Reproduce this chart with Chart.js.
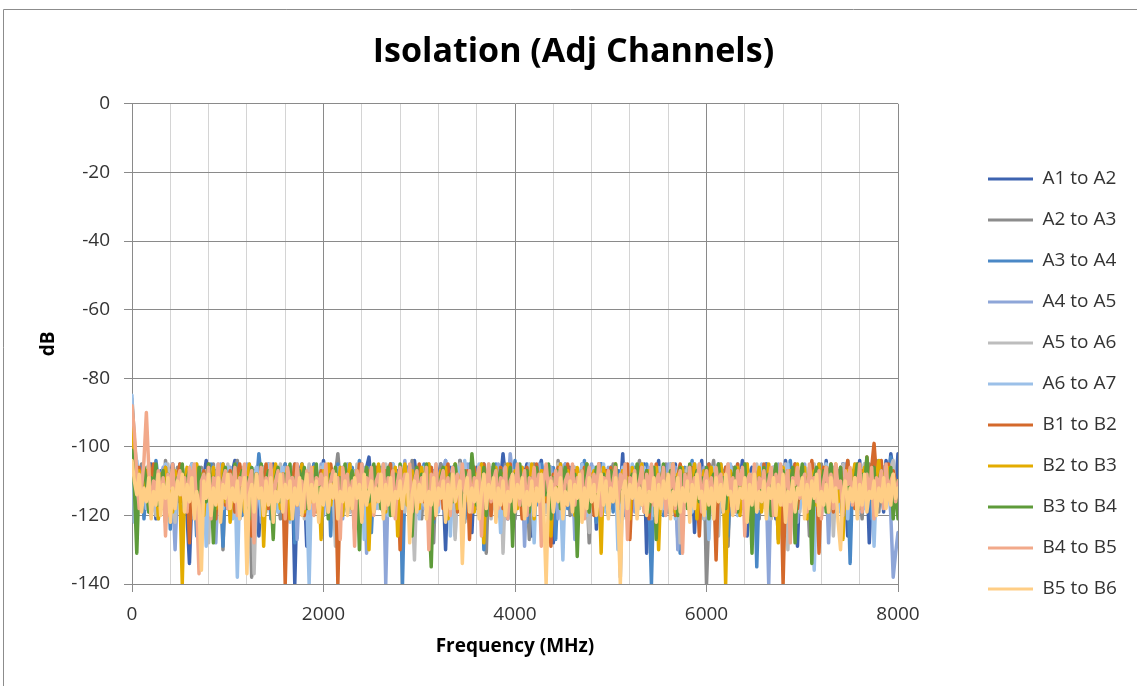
<!DOCTYPE html>
<html>
<head>
<meta charset="utf-8">
<script src="https://cdn.jsdelivr.net/npm/chart.js@4.4.1/dist/chart.umd.min.js"></script>
<style>
  html, body { margin: 0; padding: 0; background: #ffffff; }
  #wrap { width: 1137px; height: 686px; position: relative; }
</style>
</head>
<body>
<div id="wrap"><canvas id="c" width="1137" height="686"></canvas></div>
<script>
// ---- Data ----
const freqMHz = [
  0,25,50,75,100,125,150,175,200,225,250,275,300,325,350,375,400,425,450,475,
  500,525,550,575,600,625,650,675,700,725,750,775,800,825,850,875,900,925,950,975,
  1000,1025,1050,1075,1100,1125,1150,1175,1200,1225,1250,1275,1300,1325,1350,1375,1400,1425,1450,1475,
  1500,1525,1550,1575,1600,1625,1650,1675,1700,1725,1750,1775,1800,1825,1850,1875,1900,1925,1950,1975,
  2000,2025,2050,2075,2100,2125,2150,2175,2200,2225,2250,2275,2300,2325,2350,2375,2400,2425,2450,2475,
  2500,2525,2550,2575,2600,2625,2650,2675,2700,2725,2750,2775,2800,2825,2850,2875,2900,2925,2950,2975,
  3000,3025,3050,3075,3100,3125,3150,3175,3200,3225,3250,3275,3300,3325,3350,3375,3400,3425,3450,3475,
  3500,3525,3550,3575,3600,3625,3650,3675,3700,3725,3750,3775,3800,3825,3850,3875,3900,3925,3950,3975,
  4000,4025,4050,4075,4100,4125,4150,4175,4200,4225,4250,4275,4300,4325,4350,4375,4400,4425,4450,4475,
  4500,4525,4550,4575,4600,4625,4650,4675,4700,4725,4750,4775,4800,4825,4850,4875,4900,4925,4950,4975,
  5000,5025,5050,5075,5100,5125,5150,5175,5200,5225,5250,5275,5300,5325,5350,5375,5400,5425,5450,5475,
  5500,5525,5550,5575,5600,5625,5650,5675,5700,5725,5750,5775,5800,5825,5850,5875,5900,5925,5950,5975,
  6000,6025,6050,6075,6100,6125,6150,6175,6200,6225,6250,6275,6300,6325,6350,6375,6400,6425,6450,6475,
  6500,6525,6550,6575,6600,6625,6650,6675,6700,6725,6750,6775,6800,6825,6850,6875,6900,6925,6950,6975,
  7000,7025,7050,7075,7100,7125,7150,7175,7200,7225,7250,7275,7300,7325,7350,7375,7400,7425,7450,7475,
  7500,7525,7550,7575,7600,7625,7650,7675,7700,7725,7750,7775,7800,7825,7850,7875,7900,7925,7950,7975,
  8000
];

const seriesNames = ["A1 to A2","A2 to A3","A3 to A4","A4 to A5","A5 to A6","A6 to A7",
                     "B1 to B2","B2 to B3","B3 to B4","B4 to B5","B5 to B6"];

const a1toA2 = [
  -101,-104,-108,-111,-106,-112,-118,-109,-105,-110,-121,-113,-107,-109,-114,-119,-108,-105,-112,-116,
  -110,-106,-113,-120,-134,-115,-108,-111,-106,-117,-109,-104,-112,-123,-110,-107,-116,-111,-105,-109,
  -118,-112,-107,-104,-113,-121,-109,-106,-115,-110,-119,-107,-112,-126,-113,-106,-109,-117,-111,-105,
  -108,-114,-120,-110,-106,-112,-118,-108,-140,-113,-107,-105,-111,-129,-109,-115,-106,-112,-119,-110,
  -104,-109,-116,-113,-107,-121,-110,-106,-112,-118,-108,-105,-114,-124,-111,-107,-110,-117,-106,-103,
  -112,-119,-109,-106,-115,-110,-127,-108,-105,-113,-117,-107,-111,-127,-112,-106,-109,-116,-104,-110,
  -118,-108,-113,-106,-120,-111,-107,-115,-109,-105,-112,-130,-110,-106,-117,-108,-114,-104,-111,-119,
  -107,-113,-125,-109,-106,-116,-110,-105,-112,-120,-108,-114,-106,-118,-110,-102,-109,-121,-112,-107,
  -115,-106,-111,-119,-108,-105,-113,-126,-109,-116,-107,-104,-112,-118,-110,-106,-128,-113,-108,-105,
  -111,-117,-109,-106,-114,-121,-108,-112,-105,-110,-119,-107,-113,-106,-124,-110,-105,-115,-109,-112,
  -106,-118,-111,-107,-113,-102,-120,-109,-115,-106,-110,-117,-108,-112,-105,-131,-110,-107,-114,-109,
  -104,-116,-111,-106,-119,-108,-113,-105,-127,-110,-107,-115,-109,-112,-106,-125,-108,-111,-104,-118,
  -110,-106,-113,-120,-108,-105,-116,-111,-107,-122,-109,-113,-106,-118,-110,-104,-112,-126,-108,-106,
  -114,-109,-119,-107,-111,-105,-117,-110,-106,-121,-112,-108,-115,-104,-110,-118,-107,-113,-129,-109,
  -106,-112,-117,-108,-105,-114,-120,-110,-107,-113,-104,-116,-109,-111,-106,-119,-108,-105,-112,-126,
  -110,-107,-115,-109,-104,-118,-113,-106,-128,-111,-103,-108,-114,-106,-119,-104,-110,-102,-107,-112,
  -102
];
const a2toA3 = [
  -86,-98,-107,-111,-105,-113,-116,-109,-120,-106,-112,-108,-114,-118,-104,-110,-107,-122,-111,-106,
  -115,-109,-113,-119,-107,-105,-112,-117,-110,-106,-121,-108,-114,-109,-105,-116,-111,-107,-130,-110,
  -106,-113,-118,-108,-104,-111,-115,-109,-120,-107,-138,-112,-106,-110,-117,-108,-113,-105,-119,-111,
  -107,-114,-121,-109,-105,-112,-116,-108,-110,-106,-118,-113,-107,-111,-127,-109,-105,-114,-108,-112,
  -117,-110,-106,-113,-120,-108,-102,-111,-115,-109,-106,-119,-112,-107,-114,-110,-105,-122,-108,-113,
  -109,-116,-106,-111,-118,-107,-126,-112,-105,-110,-114,-108,-120,-106,-113,-109,-117,-104,-111,-115,
  -108,-121,-110,-106,-113,-107,-128,-109,-116,-105,-112,-119,-108,-111,-106,-117,-110,-104,-113,-122,
  -109,-107,-114,-106,-118,-111,-105,-112,-131,-108,-110,-115,-106,-119,-109,-113,-105,-111,-117,-107,
  -121,-110,-106,-114,-108,-112,-127,-109,-105,-116,-111,-107,-119,-108,-113,-106,-110,-118,-104,-112,
  -115,-108,-106,-120,-110,-113,-107,-117,-109,-105,-112,-128,-108,-111,-106,-116,-110,-114,-107,-119,
  -109,-105,-113,-118,-108,-111,-106,-121,-110,-107,-115,-109,-104,-117,-112,-108,-120,-106,-113,-110,
  -107,-116,-111,-105,-119,-109,-113,-106,-122,-108,-120,-112,-107,-115,-110,-105,-118,-109,-113,-106,
  -140,-120,-108,-104,-114,-109,-117,-107,-112,-129,-110,-106,-115,-108,-119,-111,-105,-113,-109,-116,
  -106,-112,-121,-108,-110,-105,-118,-113,-107,-111,-127,-109,-106,-116,-110,-108,-114,-105,-119,-112,
  -107,-113,-110,-126,-108,-106,-117,-111,-105,-114,-109,-120,-107,-112,-106,-118,-110,-108,-115,-104,
  -111,-117,-109,-106,-113,-121,-108,-110,-105,-116,-112,-107,-119,-109,-106,-114,-110,-108,-115,-112,
  -112
];
const a3toA4 = [
  -110,-113,-115,-108,-106,-121,-112,-108,-113,-117,-104,-110,-118,-109,-111,-106,-124,-112,-108,-114,
  -105,-111,-119,-109,-107,-113,-110,-126,-106,-109,-114,-108,-120,-105,-111,-116,-109,-107,-129,-110,
  -113,-106,-117,-109,-105,-112,-120,-108,-110,-115,-106,-127,-111,-102,-109,-116,-112,-107,-121,-110,
  -106,-113,-118,-109,-105,-111,-115,-108,-128,-106,-112,-110,-107,-119,-109,-114,-105,-111,-117,-108,
  -116,-110,-106,-126,-109,-112,-105,-118,-111,-107,-114,-109,-106,-120,-110,-104,-113,-108,-116,-106,
  -125,-110,-108,-114,-106,-119,-111,-107,-113,-105,-117,-109,-112,-140,-110,-106,-115,-108,-121,-109,
  -107,-113,-105,-118,-110,-106,-122,-108,-112,-115,-109,-104,-119,-111,-107,-114,-108,-116,-106,-121,
  -110,-105,-113,-118,-108,-111,-106,-130,-109,-114,-107,-112,-105,-120,-110,-108,-115,-106,-118,-111,
  -104,-116,-109,-112,-107,-122,-110,-106,-113,-117,-108,-105,-111,-119,-109,-115,-106,-127,-110,-107,
  -112,-105,-118,-109,-114,-106,-120,-108,-111,-104,-116,-110,-107,-113,-122,-108,-105,-112,-117,-109,
  -106,-119,-110,-113,-107,-115,-105,-121,-109,-111,-106,-118,-108,-113,-110,-105,-116,-140,-112,-107,
  -114,-109,-120,-106,-111,-105,-117,-110,-108,-131,-112,-106,-115,-109,-104,-118,-111,-107,-113,-121,
  -108,-105,-116,-110,-113,-107,-119,-109,-106,-126,-111,-108,-114,-105,-117,-110,-107,-112,-120,-109,
  -106,-135,-111,-108,-115,-105,-118,-110,-107,-113,-121,-109,-106,-116,-110,-104,-112,-119,-108,-114,
  -107,-111,-117,-106,-122,-109,-112,-105,-118,-110,-108,-115,-106,-120,-111,-107,-113,-105,-119,-109,
  -134,-110,-106,-114,-108,-117,-105,-112,-109,-121,-107,-104,-113,-110,-118,-106,-111,-103,-108,-112,
  -110
];
const a4toA5 = [
  -108,-111,-106,-114,-117,-109,-112,-105,-120,-110,-107,-115,-109,-106,-118,-111,-108,-113,-130,-112,
  -106,-110,-116,-108,-121,-105,-111,-114,-109,-107,-119,-110,-106,-113,-108,-128,-111,-105,-112,-117,
  -109,-106,-115,-110,-120,-107,-113,-108,-105,-118,-111,-109,-114,-106,-122,-108,-112,-105,-116,-110,
  -107,-119,-109,-113,-106,-111,-117,-108,-105,-127,-110,-107,-114,-109,-106,-118,-112,-108,-115,-105,
  -120,-110,-107,-113,-109,-116,-106,-111,-121,-108,-105,-114,-110,-107,-118,-109,-112,-106,-131,-110,
  -108,-113,-106,-117,-110,-105,-140,-112,-108,-115,-106,-119,-109,-111,-104,-116,-110,-107,-122,-109,
  -113,-106,-118,-110,-105,-112,-120,-108,-114,-107,-111,-104,-117,-109,-106,-126,-110,-113,-108,-116,
  -105,-111,-119,-108,-113,-106,-110,-121,-109,-107,-115,-108,-112,-105,-118,-110,-106,-114,-102,-109,
  -117,-108,-111,-106,-129,-110,-107,-113,-109,-116,-105,-112,-108,-119,-110,-106,-114,-107,-121,-109,
  -112,-105,-117,-110,-107,-127,-109,-113,-106,-111,-118,-108,-105,-115,-110,-107,-120,-109,-113,-106,
  -110,-116,-108,-112,-138,-109,-106,-114,-110,-107,-119,-108,-113,-105,-117,-110,-106,-121,-109,-112,
  -107,-115,-108,-111,-105,-118,-110,-106,-130,-109,-113,-107,-116,-110,-105,-112,-119,-108,-114,-106,
  -120,-109,-111,-107,-117,-110,-105,-113,-122,-108,-106,-115,-109,-112,-107,-118,-110,-105,-114,-121,
  -108,-111,-106,-116,-109,-113,-140,-110,-107,-115,-105,-119,-108,-112,-106,-117,-110,-107,-122,-109,
  -113,-105,-118,-110,-107,-114,-109,-106,-120,-111,-108,-128,-110,-106,-113,-107,-117,-109,-105,-112,
  -116,-108,-110,-106,-119,-109,-113,-105,-115,-110,-107,-118,-108,-112,-106,-116,-109,-120,-138,-131,
  -125
];
const a5toA6 = [
  -105,-109,-113,-108,-116,-111,-106,-118,-110,-107,-120,-112,-108,-114,-109,-105,-117,-110,-122,-107,
  -111,-106,-115,-109,-113,-119,-108,-105,-112,-116,-110,-107,-128,-111,-106,-114,-109,-118,-107,-112,
  -105,-116,-110,-108,-126,-109,-106,-113,-117,-110,-107,-137,-112,-108,-115,-106,-119,-110,-113,-107,
  -118,-109,-105,-112,-120,-108,-114,-106,-110,-116,-109,-107,-121,-111,-105,-113,-108,-118,-110,-106,
  -114,-109,-117,-107,-112,-129,-108,-110,-106,-115,-109,-119,-107,-112,-105,-117,-110,-108,-114,-121,
  -109,-106,-113,-118,-108,-111,-105,-116,-110,-120,-107,-113,-109,-106,-119,-111,-108,-115,-133,-110,
  -106,-112,-117,-108,-105,-114,-120,-109,-111,-107,-118,-110,-106,-113,-109,-127,-108,-105,-116,-111,
  -108,-119,-110,-106,-114,-109,-117,-107,-112,-105,-121,-110,-108,-115,-106,-131,-111,-107,-113,-109,
  -116,-106,-110,-119,-108,-113,-105,-118,-111,-107,-114,-109,-120,-106,-112,-108,-117,-110,-105,-113,
  -122,-109,-107,-115,-110,-106,-118,-111,-108,-114,-105,-125,-109,-112,-107,-116,-110,-106,-119,-108,
  -113,-110,-105,-117,-109,-121,-107,-112,-106,-115,-110,-108,-118,-105,-113,-109,-120,-107,-111,-116,
  -106,-119,-110,-108,-114,-105,-117,-111,-107,-128,-109,-113,-106,-116,-110,-105,-118,-108,-112,-121,
  -107,-110,-115,-109,-106,-126,-111,-108,-113,-105,-117,-110,-107,-120,-109,-114,-106,-119,-110,-108,
  -112,-105,-118,-109,-107,-115,-110,-121,-106,-113,-108,-117,-109,-105,-130,-111,-107,-114,-110,-119,
  -106,-112,-109,-116,-108,-105,-120,-110,-113,-107,-118,-109,-106,-126,-111,-108,-114,-105,-117,-110,
  -107,-113,-109,-119,-106,-111,-105,-116,-110,-108,-118,-107,-112,-104,-115,-109,-111,-106,-104,-114,
  -110
];
const a6toA7 = [
  -85,-122,-104,-110,-113,-107,-118,-109,-112,-106,-115,-121,-108,-111,-105,-117,-110,-107,-119,-109,
  -113,-106,-116,-108,-111,-105,-120,-110,-107,-114,-109,-129,-106,-112,-108,-117,-105,-110,-118,-109,
  -106,-113,-121,-108,-138,-111,-107,-115,-109,-105,-118,-110,-106,-113,-120,-108,-111,-105,-116,-109,
  -107,-119,-110,-106,-114,-108,-122,-109,-112,-105,-117,-110,-107,-115,-140,-111,-106,-113,-108,-118,
  -105,-111,-116,-109,-107,-121,-110,-106,-114,-108,-119,-105,-112,-109,-117,-110,-106,-127,-108,-113,
  -110,-106,-118,-109,-115,-107,-112,-120,-108,-105,-114,-110,-107,-119,-109,-113,-106,-116,-111,-108,
  -121,-109,-106,-113,-117,-108,-111,-105,-119,-110,-107,-115,-108,-126,-109,-112,-106,-118,-110,-104,
  -113,-109,-116,-107,-111,-105,-120,-110,-108,-114,-106,-118,-109,-112,-125,-108,-106,-115,-110,-107,
  -119,-109,-113,-106,-117,-110,-105,-112,-128,-108,-111,-107,-116,-109,-106,-114,-119,-110,-108,-113,
  -133,-109,-106,-115,-110,-107,-118,-111,-105,-113,-120,-108,-110,-106,-116,-109,-112,-105,-119,-110,
  -107,-114,-108,-130,-110,-106,-113,-109,-117,-105,-111,-119,-108,-112,-106,-115,-110,-107,-120,-109,
  -113,-106,-118,-110,-108,-114,-105,-121,-109,-112,-107,-116,-110,-106,-119,-108,-113,-105,-117,-111,
  -108,-127,-109,-106,-115,-110,-107,-112,-118,-108,-105,-114,-110,-120,-107,-113,-109,-106,-116,-111,
  -107,-119,-110,-105,-113,-108,-121,-109,-111,-106,-117,-110,-108,-114,-105,-126,-109,-112,-107,-118,
  -110,-106,-113,-109,-120,-136,-111,-107,-115,-108,-105,-117,-110,-112,-106,-119,-109,-113,-107,-121,
  -108,-111,-105,-116,-110,-107,-118,-109,-113,-106,-129,-110,-107,-114,-108,-117,-106,-112,-109,-115,
  -110
];
const b1toB2 = [
  -103,-108,-112,-106,-115,-110,-107,-119,-109,-105,-113,-117,-108,-111,-106,-120,-110,-107,-114,-109,
  -105,-116,-111,-108,-128,-109,-106,-113,-110,-118,-107,-112,-105,-115,-109,-121,-108,-111,-106,-117,
  -110,-107,-113,-119,-108,-105,-112,-116,-109,-106,-126,-110,-108,-114,-107,-111,-105,-118,-109,-112,
  -106,-115,-110,-108,-140,-113,-107,-111,-105,-117,-109,-106,-120,-110,-108,-114,-106,-119,-111,-107,
  -113,-109,-116,-105,-110,-108,-140,-112,-107,-115,-109,-106,-118,-110,-113,-105,-121,-108,-111,-107,
  -116,-109,-106,-114,-110,-119,-107,-112,-105,-117,-110,-108,-130,-109,-106,-113,-111,-107,-118,-110,
  -105,-112,-116,-108,-110,-106,-121,-109,-113,-107,-118,-110,-105,-114,-109,-106,-119,-111,-108,-115,
  -107,-127,-110,-106,-113,-109,-117,-105,-111,-108,-120,-110,-107,-114,-106,-118,-109,-112,-105,-116,
  -110,-107,-113,-121,-108,-106,-115,-110,-118,-105,-112,-109,-107,-116,-110,-129,-108,-111,-106,-114,
  -109,-117,-105,-112,-110,-107,-119,-108,-113,-106,-115,-110,-108,-120,-109,-105,-113,-111,-107,-117,
  -106,-112,-109,-118,-110,-107,-114,-105,-127,-111,-108,-113,-106,-116,-110,-107,-121,-109,-112,-105,
  -118,-110,-106,-114,-108,-111,-107,-120,-109,-105,-115,-110,-108,-117,-106,-113,-109,-126,-110,-107,
  -112,-105,-116,-109,-133,-110,-107,-114,-106,-119,-110,-108,-113,-105,-117,-109,-111,-106,-121,-110,
  -107,-114,-108,-118,-105,-112,-109,-116,-110,-106,-120,-108,-140,-111,-107,-115,-109,-105,-118,-110,
  -106,-113,-109,-117,-104,-111,-108,-131,-110,-106,-114,-109,-105,-119,-108,-112,-106,-116,-110,-104,
  -113,-108,-118,-105,-111,-107,-115,-103,-110,-106,-99,-109,-112,-104,-117,-108,-105,-113,-107,-111,
  -110
];
const b2toB3 = [
  -90,-104,-112,-107,-116,-109,-113,-105,-118,-110,-107,-121,-108,-112,-106,-115,-109,-119,-107,-111,
  -113,-140,-110,-106,-114,-109,-117,-105,-112,-108,-120,-110,-107,-113,-106,-118,-109,-111,-105,-116,
  -108,-122,-110,-106,-114,-109,-107,-119,-112,-105,-111,-117,-108,-113,-106,-129,-110,-107,-115,-109,
  -105,-112,-118,-108,-110,-106,-121,-109,-114,-107,-111,-105,-119,-110,-108,-116,-106,-113,-109,-127,
  -107,-111,-105,-117,-110,-108,-114,-106,-120,-109,-112,-105,-118,-110,-107,-115,-109,-113,-106,-130,
  -110,-108,-116,-105,-112,-109,-119,-107,-113,-110,-106,-126,-108,-111,-105,-117,-110,-107,-114,-109,
  -118,-106,-112,-109,-105,-120,-110,-108,-115,-107,-113,-106,-121,-109,-111,-105,-118,-110,-107,-116,
  -109,-113,-106,-119,-108,-111,-105,-128,-110,-107,-114,-109,-106,-117,-112,-108,-120,-105,-110,-113,
  -107,-118,-109,-106,-115,-110,-112,-105,-121,-108,-111,-107,-116,-109,-106,-126,-110,-108,-113,-105,
  -117,-110,-107,-114,-109,-120,-106,-112,-108,-115,-105,-119,-110,-107,-113,-109,-131,-106,-111,-108,
  -116,-109,-105,-118,-110,-107,-113,-109,-121,-106,-112,-108,-115,-105,-119,-110,-107,-114,-109,-106,
  -130,-110,-107,-116,-109,-112,-105,-119,-108,-111,-106,-117,-110,-108,-114,-105,-121,-109,-112,-107,
  -118,-110,-106,-113,-108,-116,-105,-111,-140,-109,-107,-115,-110,-106,-120,-108,-113,-105,-117,-110,
  -107,-112,-106,-119,-109,-114,-105,-116,-110,-108,-128,-109,-106,-113,-111,-107,-118,-110,-105,-115,
  -109,-106,-121,-108,-112,-107,-117,-105,-113,-110,-106,-119,-109,-111,-105,-116,-108,-127,-110,-107,
  -114,-109,-105,-118,-108,-112,-106,-115,-110,-107,-120,-109,-104,-113,-108,-117,-106,-111,-109,-113,
  -111
];
const b3toB4 = [
  -101,-112,-131,-108,-114,-106,-110,-119,-109,-113,-105,-117,-110,-107,-122,-108,-112,-106,-115,-109,
  -111,-105,-118,-109,-107,-113,-110,-120,-106,-112,-108,-116,-105,-111,-128,-109,-107,-114,-110,-106,
  -117,-108,-112,-105,-119,-110,-107,-113,-109,-121,-106,-111,-108,-115,-105,-118,-110,-107,-113,-127,
  -109,-106,-116,-110,-108,-112,-105,-120,-109,-114,-107,-111,-106,-118,-110,-108,-113,-105,-117,-109,
  -112,-107,-121,-108,-110,-106,-115,-109,-113,-105,-119,-110,-107,-114,-108,-130,-109,-111,-106,-116,
  -110,-105,-113,-109,-118,-107,-112,-106,-120,-110,-108,-114,-105,-117,-109,-111,-107,-126,-110,-106,
  -115,-108,-112,-105,-118,-135,-110,-107,-113,-109,-106,-119,-111,-108,-116,-105,-112,-110,-121,-107,
  -109,-114,-102,-110,-117,-108,-113,-106,-120,-109,-111,-105,-118,-110,-107,-115,-109,-112,-106,-129,
  -108,-113,-105,-117,-110,-107,-119,-109,-112,-106,-116,-110,-108,-114,-105,-121,-109,-111,-107,-118,
  -110,-106,-113,-109,-116,-108,-132,-110,-107,-115,-105,-119,-109,-112,-106,-117,-110,-108,-113,-120,
  -107,-111,-105,-118,-109,-114,-106,-121,-110,-108,-113,-105,-116,-109,-111,-107,-119,-110,-106,-127,
  -108,-112,-105,-117,-110,-107,-114,-109,-120,-106,-111,-108,-118,-105,-113,-110,-107,-116,-109,-112,
  -106,-121,-110,-108,-115,-105,-112,-109,-118,-107,-113,-110,-106,-119,-108,-111,-105,-117,-110,-131,
  -107,-113,-109,-116,-106,-111,-108,-120,-110,-105,-114,-109,-107,-118,-110,-112,-106,-128,-108,-111,
  -105,-117,-110,-108,-134,-109,-106,-113,-111,-107,-119,-110,-105,-115,-108,-112,-106,-120,-109,-113,
  -107,-116,-110,-105,-118,-108,-112,-103,-114,-109,-106,-119,-110,-107,-113,-108,-115,-106,-121,-110,
  -121
];
const b4toB5 = [
  -88,-96,-108,-118,-112,-104,-90,-106,-120,-110,-113,-107,-116,-109,-126,-108,-112,-105,-118,-110,
  -107,-114,-109,-119,-106,-111,-105,-117,-137,-110,-108,-113,-106,-121,-109,-112,-105,-116,-110,-107,
  -118,-108,-113,-106,-120,-109,-111,-105,-117,-110,-107,-128,-108,-112,-106,-115,-109,-113,-105,-119,
  -110,-107,-114,-108,-121,-106,-111,-109,-116,-105,-113,-110,-118,-107,-112,-106,-120,-109,-111,-108,
  -115,-105,-119,-110,-107,-113,-109,-127,-106,-111,-108,-117,-110,-129,-107,-113,-105,-116,-109,-112,
  -106,-120,-110,-108,-114,-105,-118,-109,-112,-107,-121,-110,-106,-115,-108,-113,-105,-119,-110,-107,
  -116,-109,-112,-106,-130,-108,-111,-105,-117,-110,-107,-114,-109,-120,-106,-112,-108,-118,-105,-113,
  -110,-107,-119,-109,-111,-106,-126,-108,-113,-105,-116,-110,-107,-118,-109,-112,-106,-121,-110,-108,
  -114,-105,-117,-110,-107,-120,-109,-112,-106,-115,-108,-129,-110,-105,-113,-109,-118,-107,-111,-106,
  -119,-110,-108,-114,-105,-117,-109,-112,-107,-121,-110,-106,-116,-108,-113,-105,-120,-109,-111,-107,
  -115,-110,-106,-118,-108,-112,-105,-127,-109,-111,-107,-116,-110,-106,-119,-108,-113,-105,-117,-110,
  -108,-114,-106,-120,-109,-112,-105,-118,-110,-107,-131,-108,-113,-106,-116,-109,-111,-105,-119,-110,
  -107,-115,-109,-121,-106,-112,-108,-117,-110,-105,-114,-109,-119,-107,-111,-106,-126,-110,-108,-113,
  -105,-118,-109,-112,-107,-116,-110,-106,-120,-108,-113,-105,-117,-110,-107,-128,-109,-111,-106,-115,
  -110,-108,-119,-105,-112,-109,-116,-107,-121,-110,-106,-114,-108,-118,-105,-112,-110,-120,-107,-111,
  -106,-117,-109,-113,-105,-119,-110,-108,-115,-106,-121,-109,-112,-107,-118,-105,-114,-110,-108,-116,
  -110
];
const b5toB6 = [
  -104,-110,-114,-108,-119,-112,-116,-109,-121,-113,-117,-108,-120,-111,-115,-109,-122,-112,-118,-110,
  -114,-108,-119,-111,-116,-109,-121,-113,-117,-136,-110,-115,-108,-120,-112,-117,-109,-122,-111,-115,
  -108,-118,-112,-116,-110,-121,-113,-109,-137,-114,-111,-119,-108,-115,-112,-120,-110,-117,-109,-122,
  -113,-116,-108,-119,-111,-115,-110,-121,-112,-117,-109,-120,-113,-108,-118,-111,-116,-110,-122,-112,
  -117,-109,-119,-111,-115,-108,-121,-113,-116,-110,-120,-112,-118,-109,-115,-111,-122,-108,-117,-113,
  -110,-119,-112,-116,-108,-121,-111,-117,-109,-120,-113,-115,-110,-118,-112,-108,-128,-114,-110,-119,
  -111,-116,-108,-121,-113,-117,-109,-120,-112,-115,-110,-122,-111,-118,-108,-116,-113,-110,-134,-114,
  -109,-119,-112,-116,-110,-121,-113,-108,-118,-111,-115,-109,-122,-112,-117,-110,-120,-113,-116,-108,
  -119,-111,-115,-109,-121,-113,-117,-110,-120,-112,-116,-108,-118,-140,-114,-110,-119,-112,-116,-109,
  -121,-113,-117,-110,-119,-111,-115,-108,-122,-112,-118,-109,-116,-111,-120,-113,-108,-117,-110,-121,
  -112,-116,-109,-119,-140,-113,-110,-118,-111,-115,-108,-121,-112,-117,-110,-120,-113,-116,-109,-122,
  -111,-118,-110,-115,-108,-121,-113,-117,-109,-119,-112,-116,-110,-122,-111,-118,-108,-115,-113,-120,
  -110,-117,-112,-121,-109,-116,-111,-119,-108,-114,-113,-120,-110,-118,-112,-115,-109,-122,-111,-117,
  -108,-119,-113,-116,-110,-121,-112,-115,-109,-120,-111,-117,-108,-122,-113,-116,-110,-119,-112,-114,
  -109,-121,-111,-118,-110,-115,-108,-120,-113,-117,-111,-119,-109,-116,-112,-122,-130,-114,-110,-118,
  -112,-116,-109,-121,-111,-117,-108,-119,-113,-115,-110,-120,-112,-116,-109,-118,-111,-117,-108,-115,
  -112
];

const seriesValues = [a1toA2, a2toA3, a3toA4, a4toA5, a5toA6, a6toA7,
                      b1toB2, b2toB3, b3toB4, b4toB5, b5toB6];
const seriesColors = ["#3d63b0","#8c8c8c","#4a88c6","#8ea6d8","#bdbdbd","#9bc0e8",
                      "#d4692b","#e3ac00","#5e9b3a","#f2a98a","#ffce85"];

const xTickValues = [0, 2000, 4000, 6000, 8000];
const yTickValues = [0, -20, -40, -60, -80, -100, -120, -140];

// ---- Chart ----
const FONT = "'Open Sans', 'Liberation Sans', sans-serif";
const MAJOR = "#8a8a8a";
const MINOR = "#d4d4d4";

const datasets = seriesNames.map((name, i) => ({
  label: name,
  data: seriesValues[i].map((v, k) => ({ x: freqMHz[k], y: v })),
  borderColor: seriesColors[i],
  backgroundColor: seriesColors[i],
  borderWidth: 3.5,
  pointRadius: 0,
  pointHoverRadius: 0,
  tension: 0,
  borderJoinStyle: 'round',
  borderCapStyle: 'round',
  order: seriesNames.length - 1 - i
}));

const frame = {
  id: 'frame',
  beforeDraw(chart) {
    const ctx = chart.ctx;
    ctx.save();
    ctx.fillStyle = '#ffffff';
    ctx.fillRect(0, 0, chart.width, chart.height);
    ctx.strokeStyle = '#8c8c8c';
    ctx.lineWidth = 1;
    ctx.beginPath();
    ctx.moveTo(3.5, chart.height);
    ctx.lineTo(3.5, 9.5);
    ctx.lineTo(chart.width, 9.5);
    ctx.stroke();
    ctx.restore();
  },
  afterLayout(chart) {
    const lg = chart.legend;
    if (lg) {
      const w = lg.width, h = lg.height;
      lg.left = 966; lg.right = 966 + w;
      lg.top = 147.5; lg.bottom = 147.5 + h;
    }
    const tb = chart.titleBlock;
    if (tb) {
      tb.left = 10; tb.right = chart.width; tb.width = chart.width - 10;
    }
  }
};

new Chart(document.getElementById('c'), {
  type: 'line',
  data: { datasets },
  plugins: [frame],
  options: {
    responsive: false,
    animation: false,
    events: [],
    layout: { padding: { left: 0, right: 239, top: 0, bottom: 0 } },
    plugins: {
      title: {
        display: true,
        text: 'Isolation (Adj Channels)',
        color: '#000000',
        font: { family: FONT, size: 34, weight: 'bold' },
        padding: { top: 32, bottom: 31 }
      },
      legend: {
        display: true,
        position: 'chartArea',
        align: 'start',
        labels: {
          boxWidth: 45,
          boxHeight: 3,
          padding: 22,
          color: '#333333',
          font: { family: FONT, size: 19 },
          sort: (a, b) => a.datasetIndex - b.datasetIndex,
          generateLabels: (chart) =>
            Chart.defaults.plugins.legend.labels.generateLabels(chart).map(l => ({
              ...l, lineWidth: 0, fillStyle: seriesColors[l.datasetIndex], strokeStyle: seriesColors[l.datasetIndex]
            }))
        }
      },
      tooltip: { enabled: false }
    },
    scales: {
      x: {
        type: 'linear',
        min: 0, max: 8000,
        afterFit: (s) => { s.height = 102; },
        afterBuildTicks: (s) => {
          const t = [];
          for (let v = 0; v <= 8000; v += 400) t.push({ value: v });
          s.ticks = t;
        },
        ticks: {
          autoSkip: false, maxRotation: 0, padding: 11,
          color: '#333333',
          font: { family: FONT, size: 19 },
          callback: (v) => xTickValues.includes(v) ? String(v) : ''
        },
        grid: {
          color: (c) => (c.tick && xTickValues.includes(c.tick.value)) ? MAJOR : MINOR,
          lineWidth: 1,
          drawTicks: true,
          tickLength: 8,
          tickColor: (c) => (c.tick && xTickValues.includes(c.tick.value)) ? MAJOR : 'rgba(0,0,0,0)'
        },
        border: { display: true, color: MAJOR, width: 1 },
        title: {
          display: true,
          text: 'Frequency (MHz)',
          color: '#000000',
          font: { family: FONT, size: 19, weight: 'bold' },
          padding: { top: 0, bottom: 28 }
        }
      },
      y: {
        type: 'linear',
        min: -140, max: 0,
        afterFit: (s) => { s.width = 132; },
        afterBuildTicks: (s) => { s.ticks = yTickValues.map(v => ({ value: v })).reverse(); },
        ticks: {
          padding: 14,
          color: '#333333',
          font: { family: FONT, size: 19 }
        },
        grid: {
          color: MAJOR,
          lineWidth: 1,
          drawTicks: true,
          tickLength: 8,
          tickColor: MAJOR
        },
        border: { display: true, color: MAJOR, width: 1 },
        title: {
          display: true,
          text: 'dB',
          color: '#000000',
          font: { family: FONT, size: 19, weight: 'bold' },
          padding: { top: 37, bottom: 0 }
        }
      }
    }
  }
});
</script>
</body>
</html>
